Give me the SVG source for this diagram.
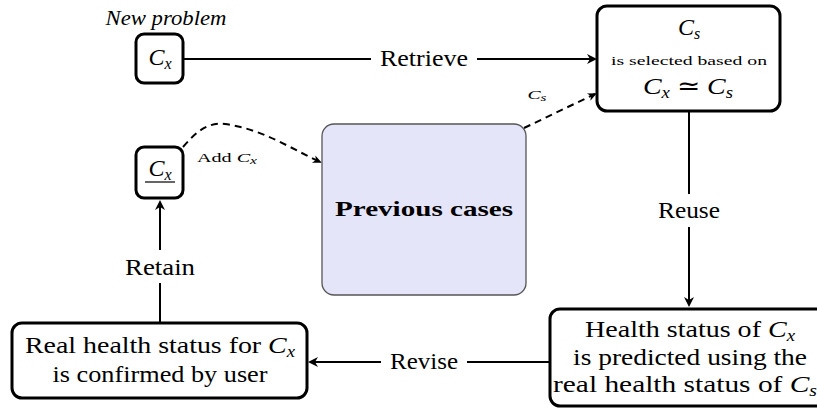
<svg xmlns="http://www.w3.org/2000/svg" width="817" height="413" viewBox="0 0 817 413">
<defs>
<style>
.box{fill:#fff;stroke:#000;stroke-width:3}
.ln{stroke:#000;stroke-width:2;fill:none}
.dash{stroke:#000;stroke-width:2;fill:none;stroke-dasharray:7 5}
</style>
<marker id="arr" markerUnits="userSpaceOnUse" markerWidth="14" markerHeight="14" refX="8" refY="7" orient="auto">
<path d="M0,2 L10,7 L0,12 L3,7 Z" fill="#000"/>
</marker>
<marker id="arrs" markerUnits="userSpaceOnUse" markerWidth="12" markerHeight="12" refX="7" refY="6" orient="auto">
<path d="M0,2 L9,6 L0,10 L2.5,6 Z" fill="#000"/>
</marker>
</defs>
<rect width="817" height="413" fill="#fff"/>

<g font-family="Liberation Serif" font-size="24" text-anchor="middle" fill="#000">

<g id="connectors">
<line class="ln" x1="184" y1="59" x2="371" y2="59"/>
<line class="ln" x1="477" y1="59" x2="595" y2="59" marker-end="url(#arr)"/>
<text x="424" y="66" textLength="88" lengthAdjust="spacingAndGlyphs">Retrieve</text>

<line class="ln" x1="689" y1="111" x2="689" y2="194"/>
<line class="ln" x1="689" y1="227" x2="689" y2="305" marker-end="url(#arr)"/>
<text x="689" y="218" textLength="62" lengthAdjust="spacingAndGlyphs">Reuse</text>

<line class="ln" x1="550" y1="362" x2="467" y2="362"/>
<line class="ln" x1="381" y1="362" x2="310" y2="362" marker-end="url(#arr)"/>
<text x="424" y="369" textLength="68" lengthAdjust="spacingAndGlyphs">Revise</text>

<line class="ln" x1="160" y1="323" x2="160" y2="283"/>
<line class="ln" x1="160" y1="250" x2="160" y2="202" marker-end="url(#arr)"/>
<text x="160" y="275" textLength="70" lengthAdjust="spacingAndGlyphs">Retain</text>

<path class="dash" d="M183,147 C196,132 207,122 225,124 C262,129 290,148 320,162" marker-end="url(#arrs)"/>
<text x="227" y="162" font-size="13" textLength="60" lengthAdjust="spacingAndGlyphs">Add <tspan font-style="italic">C</tspan><tspan font-style="italic" font-size="10" dy="2">x</tspan></text>

<path class="dash" d="M524,128 L595,94" marker-end="url(#arrs)"/>
<text x="537" y="99" font-size="13" textLength="19" lengthAdjust="spacingAndGlyphs"><tspan font-style="italic">C</tspan><tspan font-style="italic" font-size="10" dy="2">s</tspan></text>
</g>

<g id="new-problem">
<text x="166" y="25" font-size="21" font-style="italic" textLength="121" lengthAdjust="spacingAndGlyphs">New problem</text>
<rect class="box" x="136" y="34" width="47" height="49" rx="8"/>
<text x="160" y="65"><tspan font-style="italic">C</tspan><tspan font-style="italic" font-size="16" dy="4">x</tspan></text>
</g>

<g id="selected-case">
<rect class="box" x="597" y="6" width="183" height="105" rx="10"/>
<text x="689" y="35"><tspan font-style="italic">C</tspan><tspan font-style="italic" font-size="16" dy="4">s</tspan></text>
<text x="689" y="65" font-size="13" textLength="156" lengthAdjust="spacingAndGlyphs">is selected based on</text>
<text x="688" y="94" textLength="90" lengthAdjust="spacingAndGlyphs"><tspan font-style="italic">C</tspan><tspan font-style="italic" font-size="16" dy="4">x</tspan><tspan dy="-4"> ≃ </tspan><tspan font-style="italic">C</tspan><tspan font-style="italic" font-size="16" dy="4">s</tspan></text>
</g>

<g id="retained-case">
<rect class="box" x="136" y="147" width="47" height="51" rx="8"/>
<text x="160" y="176"><tspan font-style="italic">C</tspan><tspan font-style="italic" font-size="16" dy="4">x</tspan></text>
<line x1="145" y1="182" x2="175" y2="182" stroke="#000" stroke-width="1.2"/>
</g>

<g id="previous-cases">
<rect x="322" y="124" width="204" height="171" rx="12" fill="#e5e5fa" stroke="#555" stroke-width="1.3"/>
<text x="424" y="216" font-size="22" font-weight="bold" textLength="178" lengthAdjust="spacingAndGlyphs">Previous cases</text>
</g>

<g id="prediction">
<rect class="box" x="550" y="309" width="290" height="97" rx="10"/>
<text x="690" y="337" textLength="210" lengthAdjust="spacingAndGlyphs">Health status of <tspan font-style="italic">C</tspan><tspan font-style="italic" font-size="16" dy="4">x</tspan></text>
<text x="690" y="365" textLength="234" lengthAdjust="spacingAndGlyphs">is predicted using the</text>
<text x="685" y="392" textLength="264" lengthAdjust="spacingAndGlyphs">real health status of <tspan font-style="italic">C</tspan><tspan font-style="italic" font-size="16" dy="4">s</tspan></text>
</g>

<g id="confirmation">
<rect class="box" x="12" y="323" width="295" height="75" rx="10"/>
<text x="160" y="353" textLength="270" lengthAdjust="spacingAndGlyphs">Real health status for <tspan font-style="italic">C</tspan><tspan font-style="italic" font-size="16" dy="4">x</tspan></text>
<text x="160" y="382" textLength="215" lengthAdjust="spacingAndGlyphs">is confirmed by user</text>
</g>

</g>
</svg>
